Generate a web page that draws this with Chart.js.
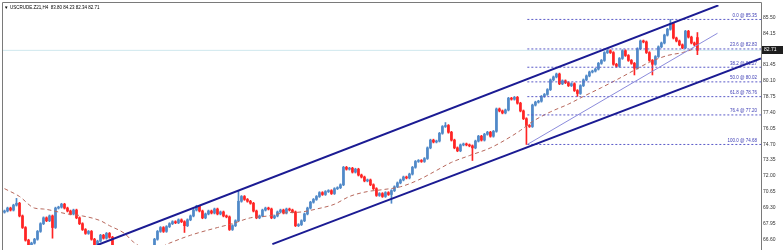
<!DOCTYPE html>
<html>
<head>
<meta charset="utf-8">
<script src="https://cdn.jsdelivr.net/npm/chart.js@4.4.1/dist/chart.umd.min.js"></script>
<style>
html, body { margin: 0; padding: 0; background: #fff; overflow: hidden; }
canvas { display: block; }
</style>
</head>
<body>
<canvas id="chart" width="783" height="250"></canvas>
<script>
// USCRUDE H4
const symbolTitle = 'USCRUDE.Z21,H4';
const lastBar = [83.80, 84.23, 82.34, 82.71]; // O H L C of the live bar
const firstOpen = 68.90;
const closes = [
    69.00, 69.25, 69.08, 69.50, 69.66, 68.58, 67.59, 66.51, 65.93, 66.26,
    66.59, 67.26, 67.92, 68.42, 68.17, 68.58, 67.59, 69.25, 69.33, 69.58,
    69.25, 69.00, 68.75, 69.08, 68.42, 67.92, 67.42, 67.09, 67.26, 66.59,
    66.10, 66.43, 66.93, 66.68, 67.09, 66.76, 65.93, 65.43, 65.10, 65.60,
    65.10, 64.60, 64.94, 64.44, 64.77, 65.10, 64.60, 64.94, 65.43, 65.93,
    66.59, 67.26, 67.59, 67.26, 67.67, 67.92, 68.09, 68.00, 68.25, 68.09,
    67.75, 68.25, 68.58, 69.08, 69.41, 69.00, 68.42, 68.75, 69.00, 68.83,
    69.17, 68.75, 68.92, 68.58, 68.50, 67.42, 67.75, 68.17, 69.83, 70.24,
    69.99, 69.83, 69.66, 69.00, 68.42, 68.58, 69.08, 69.25, 69.17, 68.42,
    68.58, 68.92, 69.08, 68.83, 69.17, 69.08, 68.92, 67.75, 67.84, 68.17,
    68.75, 69.25, 69.75, 69.99, 70.24, 70.57, 70.41, 70.66, 70.74, 70.49,
    70.91, 70.99, 71.24, 72.73, 72.57, 72.65, 72.32, 72.57, 72.07, 71.90,
    71.57, 71.65, 71.24, 70.91, 70.33, 70.49, 70.24, 70.57, 70.41, 70.74,
    71.07, 71.40, 71.65, 71.90, 71.82, 72.15, 72.73, 73.23, 73.31, 73.23,
    73.48, 74.39, 75.05, 74.89, 74.97, 75.63, 76.21, 76.30, 75.72, 75.05,
    74.39, 74.14, 74.64, 74.72, 74.64, 74.56, 74.39, 74.97, 75.38, 75.05,
    75.55, 75.72, 75.38, 75.80, 77.71, 77.54, 77.37, 77.62, 78.62, 78.54,
    78.70, 78.20, 77.54, 76.88, 76.30, 76.21, 78.04, 78.29, 78.37, 78.78,
    78.95, 79.36, 80.19, 80.44, 80.69, 79.86, 80.11, 79.95, 79.70, 79.86,
    79.28, 79.03, 79.70, 80.19, 80.53, 80.86, 80.94, 81.11, 81.60, 81.85,
    82.52, 82.68, 82.52, 81.52, 81.35, 82.02, 82.68, 82.27, 81.85, 81.60,
    81.19, 82.85, 83.51, 83.43, 82.52, 81.85, 81.52, 82.18, 83.01, 83.34,
    84.01, 84.51, 85.00, 83.76, 83.51, 83.18, 82.93, 84.34, 83.84, 83.34,
    83.18
];
// long wicks visible in the picture: [bar index, price]
const spikeHighs = [[4, 70.08], [78, 70.74], [147, 76.55], [222, 85.35]];
const spikeLows = [[16, 66.68], [53, 67.17], [60, 67.17], [129, 69.66], [156, 73.31],
    [174, 74.68], [191, 78.78], [210, 80.61], [216, 80.61]];
const wickPad = 0.08;

// dashed moving average: [bar index, price]
const maPoints = [[0, 70.91], [5, 70.24], [10, 69.25], [13, 69.17], [21, 68.75], [26, 68.58],
    [32, 68.17], [35, 67.75], [40, 67.09], [43, 66.35], [49, 65.60], [55, 66.26], [62, 66.93],
    [71, 67.59], [76, 67.92], [82, 68.42], [88, 68.58], [93, 68.83], [99, 68.92], [104, 69.17],
    [110, 69.58], [115, 70.24], [121, 70.66], [126, 70.82], [132, 71.07], [138, 71.65],
    [143, 72.32], [149, 73.15], [155, 73.73], [162, 74.39], [169, 75.38], [172, 75.88],
    [176, 76.63], [182, 77.46], [188, 78.12], [193, 78.78], [199, 79.53], [204, 80.19],
    [210, 81.02], [215, 81.69], [221, 82.27], [226, 82.52], [230, 82.85]];

// trend lines: [bar index, price]
const upperChannel = [[31, 66.10], [238, 86.55]];
const lowerChannel = [[89.3, 66.18], [252.2, 82.02]];
const innerTrend = [[174.3, 74.68], [237.7, 84.17]];

const fibRatios = ['0.0', '23.6', '38.2', '50.0', '61.8', '76.4', '100.0'];
const fibPrices = [85.35, 82.83, 81.27, 80.02, 78.76, 77.20, 74.68];
const fibStart = 174.3;

const priceTicks = [85.50, 84.15, 82.80, 81.45, 80.10, 78.75, 77.40, 76.05, 74.70, 73.35,
    72.00, 70.65, 69.30, 67.95, 66.60];

const xMin = -0.5, xMax = 252.2;
const upColor = '#5089c8';
const downColor = '#ff2424';
const smallFont = '4.5px "Liberation Sans"';

// build candles
const candles = closes.map((c, i) => ({ o: i ? closes[i - 1] : firstOpen, c }));
candles.push({ o: lastBar[0], c: lastBar[3], h: lastBar[1], l: lastBar[2] });
spikeHighs.forEach(([i, v]) => candles[i].h = v);
spikeLows.forEach(([i, v]) => candles[i].l = v);
candles.forEach(k => {
    if (k.h === undefined) k.h = Math.max(k.o, k.c) + wickPad;
    if (k.l === undefined) k.l = Math.min(k.o, k.c) - wickPad;
});
const candleColors = candles.map(k => k.c >= k.o ? upColor : downColor);

const toXY = pts => pts.map(([x, y]) => ({ x, y }));
const lineSet = (pts, color, width, dash, order) => ({
    type: 'line',
    data: toXY(pts),
    borderColor: color,
    borderWidth: width,
    borderDash: dash,
    pointRadius: 0,
    fill: false,
    order
});

const datasets = [
    lineSet(upperChannel, '#1b1b93', 2, [], 0),
    lineSet(lowerChannel, '#1b1b93', 2, [], 0),
    lineSet(innerTrend, '#8c8cdc', 1, [], 1),
    ...fibPrices.map(p => lineSet([[fibStart, p], [xMax, p]], '#5a5ac8', 1, [2, 2], 2)),
    Object.assign(lineSet(maPoints, '#b8685c', 1, [4, 3], 3), { cubicInterpolationMode: 'monotone' }),
    {
        type: 'bar',
        data: candles.map((k, i) => ({ x: i, y: [k.o, k.c] })),
        backgroundColor: candleColors,
        barThickness: 2,
        minBarLength: 1,
        grouped: false,
        order: 4
    },
    {
        type: 'bar',
        data: candles.map((k, i) => ({ x: i, y: [k.l, k.h] })),
        backgroundColor: candleColors,
        barThickness: 1,
        grouped: false,
        order: 5
    },
    lineSet([[xMin, lastBar[3]], [xMax, lastBar[3]]], '#cfe8ee', 1, [], 6)
];

const overlay = {
    id: 'overlay',
    beforeDraw(chart) {
        const ctx = chart.ctx;
        ctx.save();
        ctx.fillStyle = '#fff';
        ctx.fillRect(0, 0, chart.width, chart.height);
        ctx.restore();
    },
    afterDatasetsDraw(chart) {
        const { ctx, scales: { y } } = chart;
        ctx.save();
        ctx.font = smallFont;
        ctx.fillStyle = '#3c3cb4';
        ctx.textAlign = 'right';
        ctx.textBaseline = 'bottom';
        fibPrices.forEach((p, i) => {
            ctx.fillText(fibRatios[i] + ' @ ' + p.toFixed(2), chart.chartArea.right - 4, y.getPixelForValue(p) - 1.5);
        });
        ctx.restore();
    },
    afterDraw(chart) {
        const { ctx, chartArea, scales: { y } } = chart;
        ctx.save();
        // frame
        ctx.strokeStyle = '#7a7a7a';
        ctx.lineWidth = 1;
        ctx.beginPath();
        ctx.moveTo(2.5, chart.height);
        ctx.lineTo(2.5, 2.5);
        ctx.lineTo(chartArea.right + 0.5, 2.5);
        ctx.lineTo(chartArea.right + 0.5, chart.height);
        ctx.stroke();
        // title
        ctx.fillStyle = '#000';
        ctx.font = smallFont;
        ctx.textBaseline = 'middle';
        ctx.fillText('\u25BC', 4, 7.5);
        ctx.fillText(symbolTitle + '  ' + lastBar.map(v => v.toFixed(2)).join(' '), 10, 7.5);
        // current price box
        const py = Math.round(y.getPixelForValue(lastBar[3]));
        ctx.fillStyle = '#1e1e1e';
        ctx.fillRect(chartArea.right + 1, py - 4, chart.width - chartArea.right - 1, 8);
        ctx.fillStyle = '#fff';
        ctx.font = '5px "Liberation Sans"';
        ctx.fillText(lastBar[3].toFixed(2), chartArea.right + 3, py);
        ctx.restore();
    }
};

new Chart(document.getElementById('chart'), {
    type: 'bar',
    data: { datasets },
    options: {
        responsive: false,
        animation: false,
        devicePixelRatio: 1,
        layout: { padding: { left: 3, top: 3, right: 0, bottom: 0 } },
        plugins: { legend: { display: false }, tooltip: { enabled: false } },
        scales: {
            x: { type: 'linear', min: xMin, max: xMax, offset: false, display: false },
            y: {
                position: 'right',
                min: 66.10,
                max: 86.58,
                afterBuildTicks: s => { s.ticks = priceTicks.map(v => ({ value: v })); },
                afterFit: s => { s.width = 22; },
                grid: { display: false, drawTicks: false },
                border: { display: false },
                ticks: {
                    autoSkip: false,
                    padding: 2,
                    color: '#333',
                    font: { family: 'Liberation Sans', size: 5 },
                    callback: v => v.toFixed(2)
                }
            }
        }
    },
    plugins: [overlay]
});
</script>
</body>
</html>
